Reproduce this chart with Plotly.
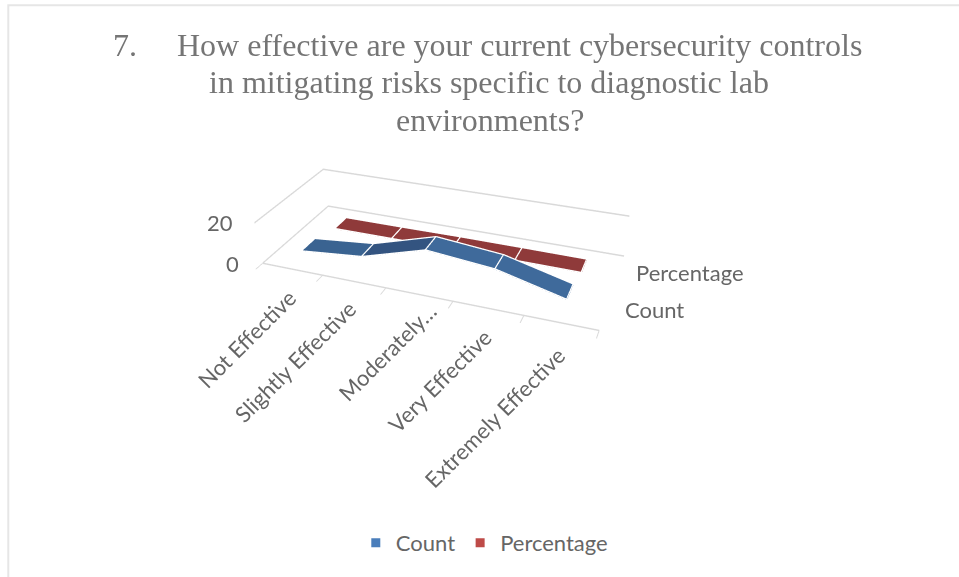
import plotly.graph_objects as go

# Survey responses per effectiveness rating
cats = ["Not Effective", "Slightly Effective", "Moderately…", "Very Effective", "Extremely Effective"]
count = [4, 7, 16, 13, 5]
pct = [0.08, 0.16, 0.36, 0.29, 0.11]
series_names = ["Count", "Percentage"]
z_ticks = [0, 20]

TITLE_LINES = ["7." + "\u00a0" * 5 + "How effective are your current cybersecurity controls",
               "in mitigating risks specific to diagnostic lab",
               "environments?"]
TITLE_X = [487.5, 488.5, 490]
TITLE_Y = [45, 82, 120]
GREY = "#666666"
RIBBON_HALF = 0.2
LABEL_FONT = dict(family="Lato", size=22, color=GREY)
W, H = 959, 577


def ribbon(values, depth, colors):
    """Flat 3D-line band: one quad per category step, coloured segment by segment."""
    xs, ys, zs, i, j, k, fc = [], [], [], [], [], [], []
    ox, oy, oz = [], [], []
    for n in range(len(values) - 1):
        b = len(xs)
        quad = [(n + 1, depth - RIBBON_HALF, values[n]),
                (n + 2, depth - RIBBON_HALF, values[n + 1]),
                (n + 2, depth + RIBBON_HALF, values[n + 1]),
                (n + 1, depth + RIBBON_HALF, values[n])]
        for q in quad:
            xs.append(q[0]); ys.append(q[1]); zs.append(q[2])
        i += [b, b]; j += [b + 1, b + 2]; k += [b + 2, b + 3]
        fc += [colors[n], colors[n]]
        for q in quad + quad[:1]:
            ox.append(q[0]); oy.append(q[1]); oz.append(q[2])
        ox.append(None); oy.append(None); oz.append(None)
    mesh = go.Mesh3d(x=xs, y=ys, z=zs, i=i, j=j, k=k, facecolor=fc, flatshading=True,
                     lighting=dict(ambient=1, diffuse=0, specular=0, fresnel=0),
                     hoverinfo="skip", showlegend=False, showscale=False)
    outline = go.Scatter3d(x=ox, y=oy, z=oz, mode="lines", line=dict(color="white", width=5),
                           hoverinfo="skip", showlegend=False)
    return [mesh, outline]


fig = go.Figure()
fig.add_traces(ribbon(pct, 1.5, ["#8f3a3a"] * 4))
fig.add_traces(ribbon(count, 0.5, ["#3a6391", "#335480", "#3f6a9b", "#3f6a9b"]))
for name, col in zip(series_names, ["#4a7ebb", "#be4b48"]):
    fig.add_trace(go.Scatter(x=[None], y=[None], mode="markers", name=name,
                             marker=dict(symbol="square", size=9, color=col)))

notes = []
cat_shift = [(12, -12), (10, -11), (26, 0), (12, -13), (12, -16)]
for n, (c, (sx, sy)) in enumerate(zip(cats, cat_shift)):
    notes.append(dict(x=n + 1, y=0, z=0, text=c, textangle=-45, showarrow=False, xanchor="right",
                      yanchor="top", xshift=sx, yshift=sy, font=LABEL_FONT))
for name, d, s in zip(series_names, [0.5, 1.5], [17, 15]):
    notes.append(dict(x=5.5, y=d, z=0, text=name, showarrow=False, xanchor="left", yanchor="middle",
                      xshift=s, font=LABEL_FONT))
for t, s in zip(z_ticks, [-22, -19]):
    notes.append(dict(x=0.5, y=0, z=t, text=str(t), showarrow=False, xanchor="right", yanchor="middle",
                      xshift=s, font=LABEL_FONT))

title_notes = [dict(text=t, xref="paper", yref="paper", x=x / W, y=1 - y / H, showarrow=False,
                    xanchor="center", yanchor="middle",
                    font=dict(family="Liberation Serif", size=32, color="#757575"))
               for t, x, y in zip(TITLE_LINES, TITLE_X, TITLE_Y)]

hidden = dict(showgrid=False, showbackground=False, showticklabels=False, title="", zeroline=False)
fig.update_layout(
    width=W, height=H, margin=dict(l=0, r=0, t=0, b=0), paper_bgcolor="white", plot_bgcolor="white",
    xaxis=dict(visible=False), yaxis=dict(visible=False),
    annotations=title_notes,
    legend=dict(orientation="h", x=0.505, xanchor="center", y=1 - 543 / H, yanchor="middle",
                font=LABEL_FONT, itemwidth=30),
    scene=dict(
        domain=dict(x=[0, 1], y=[0, 1]), aspectmode="manual",
        aspectratio=dict(x=0.2652, y=0.1031, z=0.0357),
        camera=dict(eye=dict(x=0.1789, y=-0.4341, z=0.2688), center=dict(x=-0.0898, y=0.3436, z=-0.2825),
                    up=dict(x=0, y=0, z=1)),
        xaxis=dict(range=[0.5, 5.5], tickvals=[0.5, 1.5, 2.5, 3.5, 4.5, 5.5], ticks="outside", ticklen=6,
                   tickwidth=2, tickcolor="#d9d9d9", showline=True, linecolor="#d9d9d9", linewidth=3, **hidden),
        yaxis=dict(range=[0, 2], tickvals=[0.5, 1.5], **hidden),
        zaxis=dict(range=[0, 20], tickvals=z_ticks, showgrid=True, gridcolor="#d9d9d9", gridwidth=3,
                   showbackground=False, showticklabels=False, title="", zeroline=False),
        annotations=notes,
    ),
    shapes=[dict(type="path", xref="paper", yref="paper",
                 path=f"M {8.3 / W} 0 L {8.3 / W} {1 - 5.3 / H} L 1 {1 - 5.3 / H}",
                 line=dict(color="#e6e6e6", width=2))],
)
fig.write_html("out.html")
